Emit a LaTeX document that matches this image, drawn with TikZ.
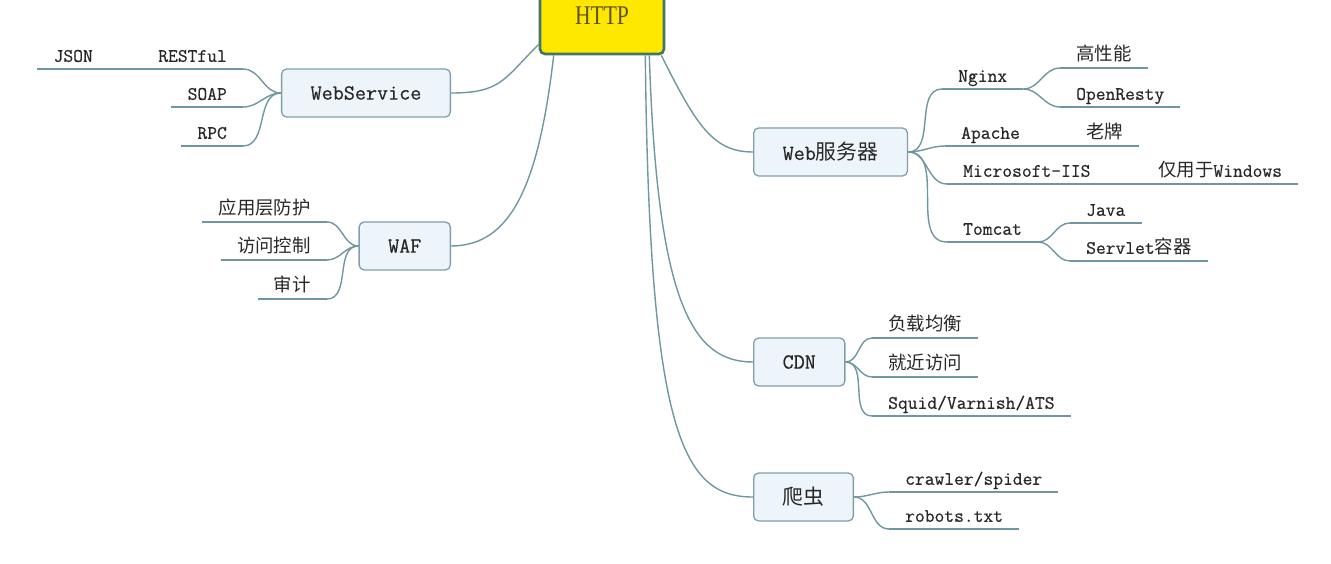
\documentclass[tikz,border=0pt]{standalone}
\usepackage{fontspec}
\setmonofont{Latin Modern Mono}[FakeBold=0.6]
\newfontfamily\cjk[Scale=0.97]{Noto Sans CJK SC}
\newfontfamily\httpfont[FakeStretch=0.8]{Liberation Serif}
\definecolor{branchc}{RGB}{112,150,160}
\definecolor{boxfill}{RGB}{238,245,250}
\definecolor{boxline}{RGB}{128,158,172}
\definecolor{rootfill}{RGB}{255,232,0}
\definecolor{rootline}{RGB}{66,116,106}
\definecolor{roottext}{RGB}{95,80,40}
\definecolor{textc}{RGB}{40,40,40}

\begin{document}
\begin{tikzpicture}[x=1pt, y=-1pt,
   branch/.style={draw=branchc, line width=1.4pt},
   topic/.style={draw=boxline, fill=boxfill, line width=1.3pt, rounded corners=5pt,
        inner xsep=29pt, minimum height=48pt, text=textc,
        font=\ttfamily\fontsize{21.5}{23}\selectfont},
   leaf/.style={inner xsep=16pt, inner ysep=5pt, text height=12pt, text depth=2pt,
        text=textc, font=\ttfamily\fontsize{19}{21}\selectfont},
   root/.style={draw=rootline, fill=rootfill, line width=2.6pt, rounded corners=5pt,
        minimum width=124pt, minimum height=76pt, text=roottext,
        font=\httpfont\fontsize{27}{29}\selectfont}]

\useasboundingbox (0,0) rectangle (1331,564);

% root
\node[root] (http) at (602,16) {HTTP};
\coordinate (h1) at ([yshift=11pt]http.south west);
\coordinate (h2) at ([xshift=15pt]http.south west);
\coordinate (h3) at ([xshift=-20pt]http.south east);
\coordinate (h4) at ([xshift=-16pt]http.south east);
\coordinate (h5) at ([xshift=-4pt]http.south east);

% main topics
\node[topic, anchor=east] (ws)  at (451,93)  {WebService};
\node[topic, anchor=east] (waf) at (451,246) {WAF};
\node[topic, anchor=west] (web) at (753,152) {Web{\cjk 服务器}};
\node[topic, anchor=west] (cdn) at (753,362) {CDN};
\node[topic, anchor=west] (pc)  at (753,497) {{\cjk 爬虫}};

% WebService
\node[leaf, anchor=south east] (restful) at (243,69)  {RESTful};
\node[leaf, anchor=south east] (json)    at (109,69)  {JSON};
\node[leaf, anchor=south east] (soap)    at (243,107) {SOAP};
\node[leaf, anchor=south east] (rpc)     at (243,146) {RPC};

% WAF
\node[leaf, anchor=south east] (yyfh) at (327,222) {{\cjk 应用层防护}};
\node[leaf, anchor=south east] (fwkz) at (327,260) {{\cjk 访问控制}};
\node[leaf, anchor=south east] (sj)   at (327,299) {{\cjk 审计}};

% Web server
\node[leaf, anchor=south west] (nginx)     at (942,89)   {Nginx};
\node[leaf, anchor=south west] (gxn)       at (1060,68)  {{\cjk 高性能}};
\node[leaf, anchor=south west] (openresty) at (1060,107) {OpenResty};
\node[leaf, anchor=south west] (apache)    at (945,146)  {Apache};
\node[leaf, anchor=south west] (lp)        at (1070,146) {{\cjk 老牌}};
\node[leaf, anchor=south west] (iis)       at (947,184)  {Microsoft-IIS};
\node[leaf, anchor=south west] (win)       at (1142,184) {{\cjk 仅用于}Windows};
\node[leaf, anchor=south west] (tomcat)    at (947,242)  {Tomcat};
\node[leaf, anchor=south west] (java)      at (1070,223) {Java};
\node[leaf, anchor=south west] (servlet)   at (1070,261) {Servlet{\cjk 容器}};

% CDN
\node[leaf, anchor=south west] (fzjh)  at (872,338) {{\cjk 负载均衡}};
\node[leaf, anchor=south west] (jjfw)  at (872,377) {{\cjk 就近访问}};
\node[leaf, anchor=south west] (squid) at (872,416) {Squid/Varnish/ATS};

% crawler
\node[leaf, anchor=south west] (crawler) at (889,492) {crawler/spider};
\node[leaf, anchor=south west] (robots)  at (889,529) {robots.txt};

% root to topics
\draw[branch] (h1) .. controls +(-35,35) and +(50,0) .. (ws.east);
\draw[branch] (h2) .. controls +(-15,130) and +(60,0) .. (waf.east);
\draw[branch] (h5) .. controls +(35,70) and +(-40,0) .. (web.west);
\draw[branch] (h4) .. controls +(8,250) and +(-60,0) .. (cdn.west);
\draw[branch] (h3) .. controls +(4,380) and +(-70,0) .. (pc.west);

% topics to leaves
\foreach \n in {restful,soap,rpc}
  \draw[branch] (ws.west) to[out=180,in=0] (\n.south east);
\foreach \n in {yyfh,fwkz,sj}
  \draw[branch] (waf.west) to[out=180,in=0] (\n.south east);
\foreach \n in {nginx,apache,iis,tomcat}
  \draw[branch] (web.east) to[out=0,in=180] (\n.south west);
\foreach \n in {fzjh,jjfw,squid}
  \draw[branch] (cdn.east) to[out=0,in=180] (\n.south west);
\foreach \n in {crawler,robots}
  \draw[branch] (pc.east) to[out=0,in=180] (\n.south west);
\foreach \n in {gxn,openresty}
  \draw[branch] (nginx.south east) to[out=0,in=180] (\n.south west);
\foreach \n in {java,servlet}
  \draw[branch] (tomcat.south east) to[out=0,in=180] (\n.south west);
\draw[branch] (restful.south west) -- (json.south east);
\draw[branch] (apache.south east) -- (lp.south west);
\draw[branch] (iis.south east) -- (win.south west);

% underlines
\foreach \n in {restful,json,soap,rpc,yyfh,fwkz,sj,nginx,gxn,openresty,apache,lp,
                iis,win,tomcat,java,servlet,fzjh,jjfw,squid,crawler,robots}
  \draw[branch] (\n.south west) -- (\n.south east);

\end{tikzpicture}
\end{document}
